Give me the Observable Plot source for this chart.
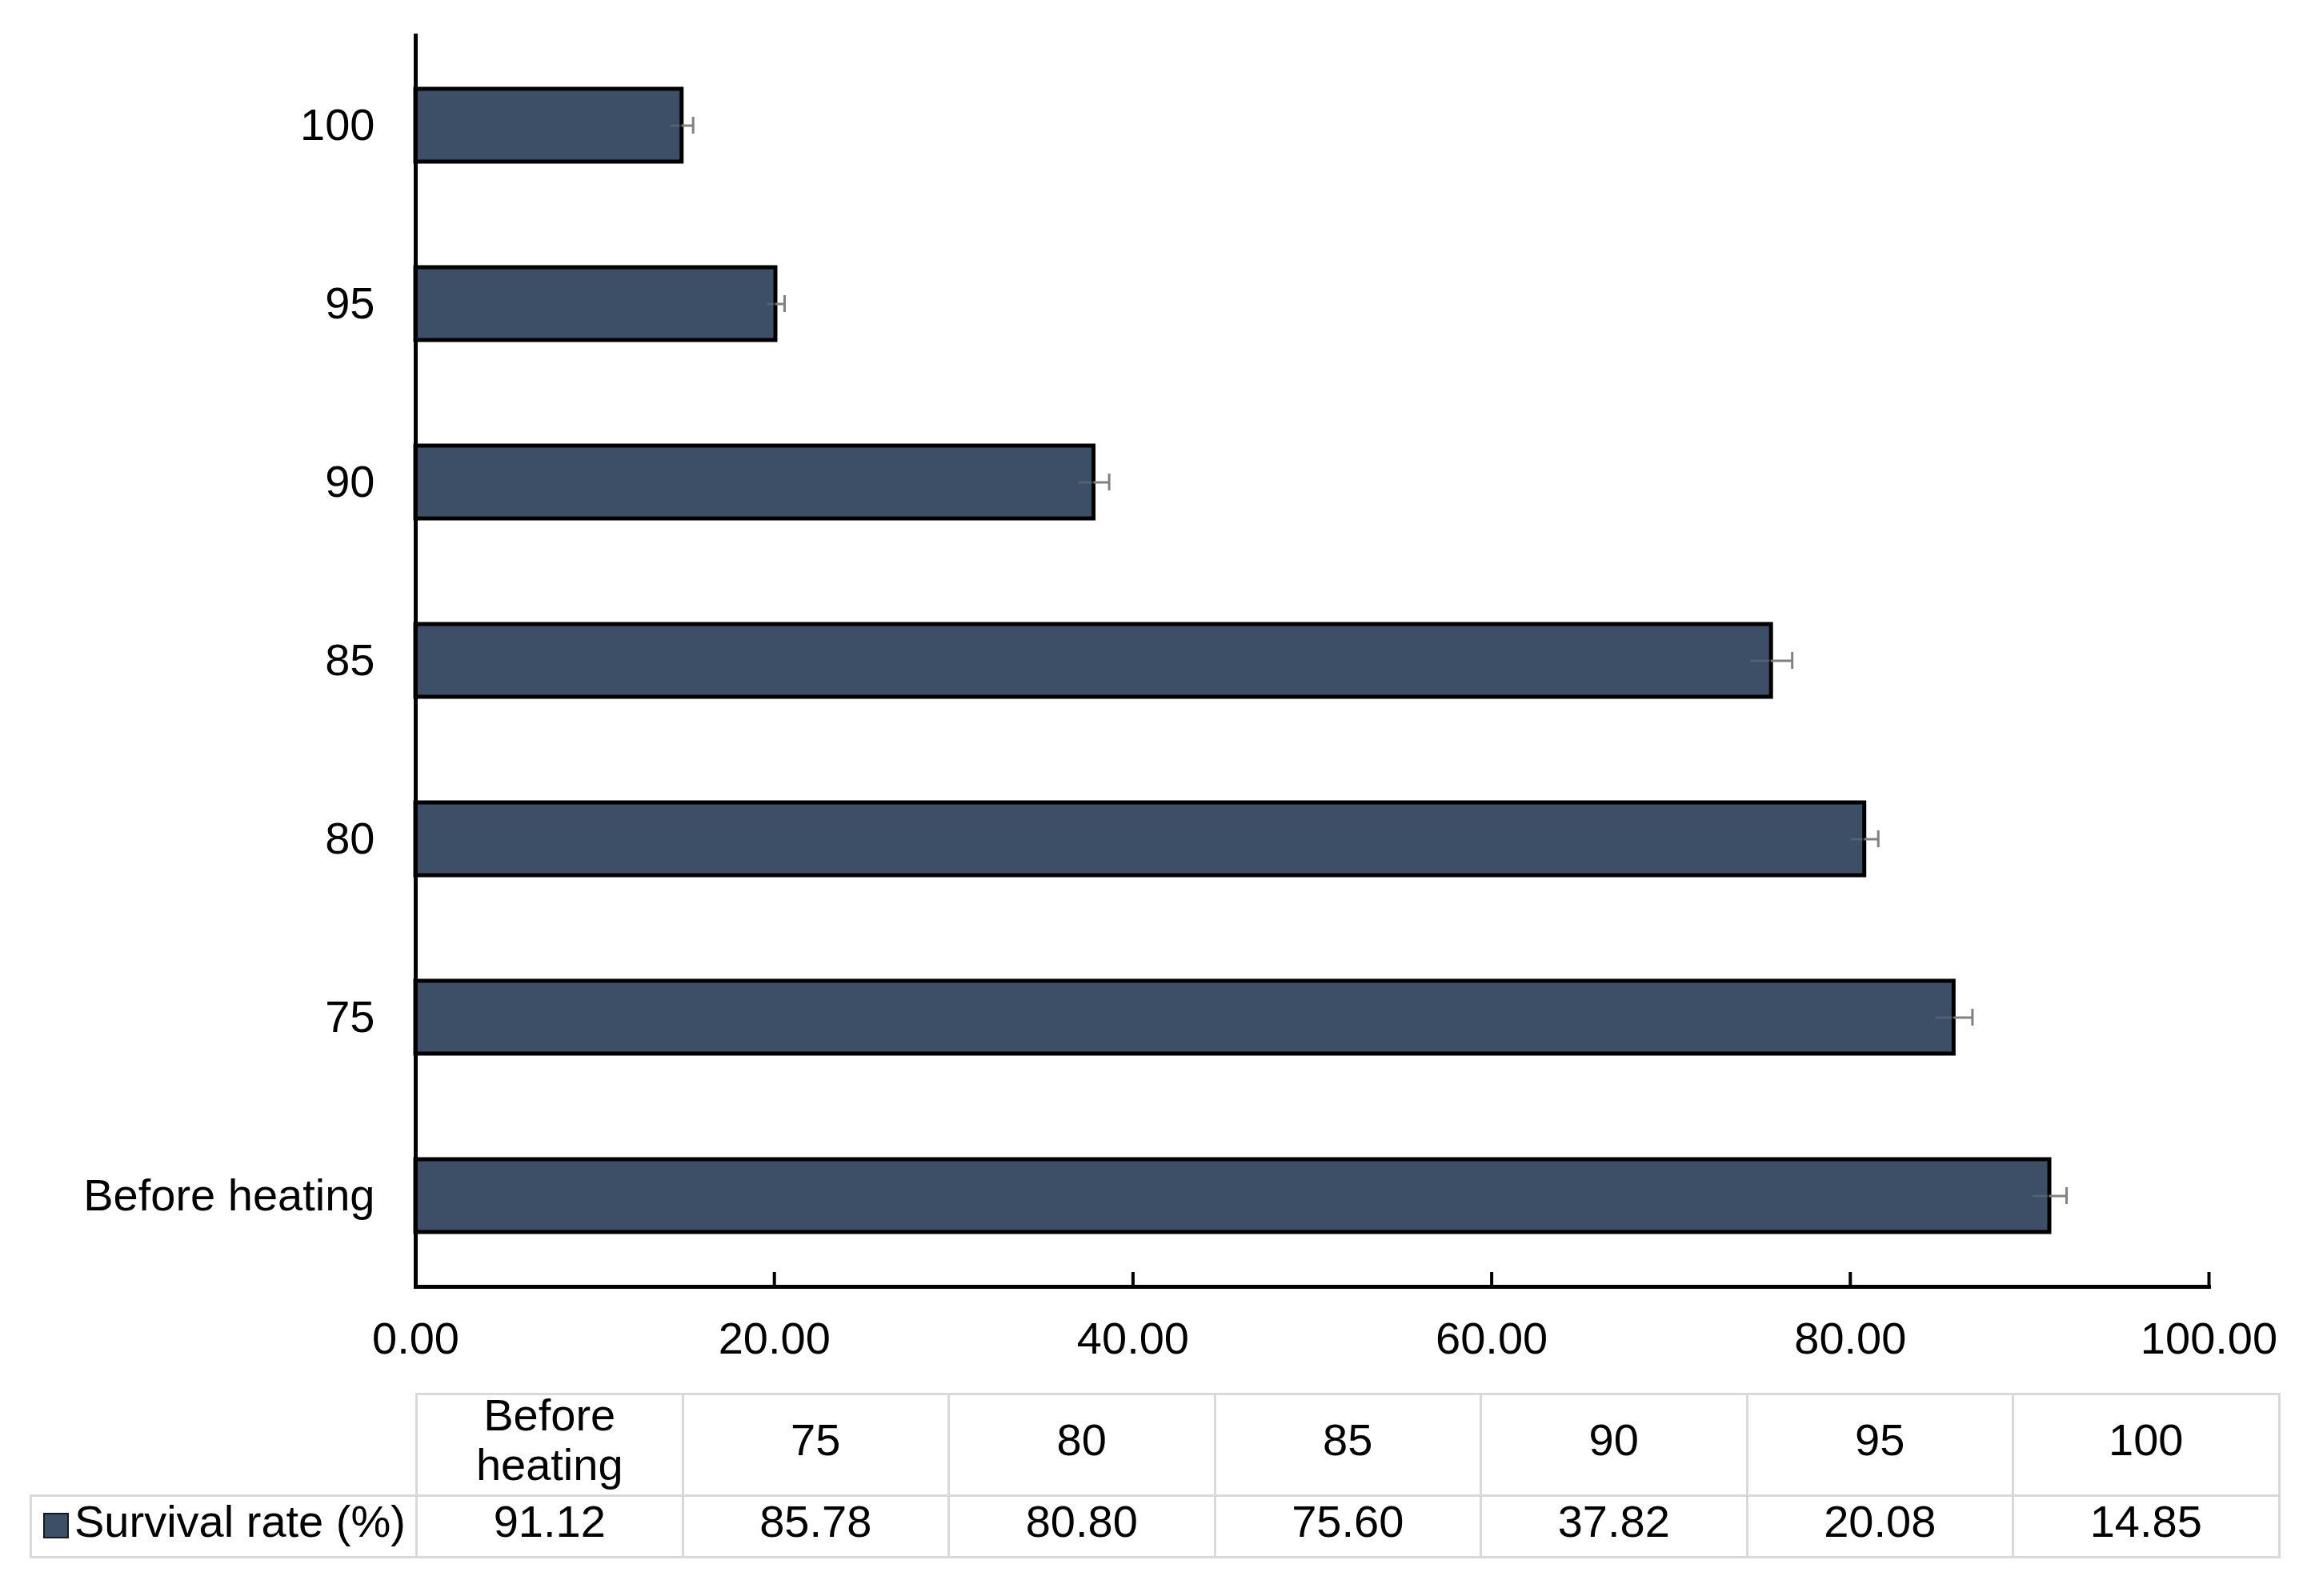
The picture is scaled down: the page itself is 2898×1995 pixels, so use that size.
<!DOCTYPE html>
<html><head><meta charset="utf-8">
<script src="https://cdn.jsdelivr.net/npm/d3@7"></script>
<script src="https://cdn.jsdelivr.net/npm/@observablehq/plot@0.6"></script>
<style>
body{margin:0;background:#fff;}
#wrap{position:relative;width:2898px;height:1995px;font-family:"Liberation Sans",Arial,sans-serif;background:#fff;}
#chart{position:absolute;left:0;top:0;}
#tbl{position:absolute;left:37px;top:1741px;border-collapse:collapse;font-size:56px;color:#000;table-layout:fixed;}
#tbl td{border:3px solid #d9d9d9;text-align:center;vertical-align:middle;padding:0;line-height:62px;}
#tbl td span.t{position:relative;top:-6px;}
#tbl td.blank{border-top:none;border-left:none;}
#tbl td.legend{text-align:left;padding-left:14px;white-space:nowrap;}
.sw{display:inline-block;width:28px;height:28px;background:#3d4f67;border:2px solid #111827;margin-right:7px;vertical-align:-2px;}
</style></head><body>
<div id="wrap"><div id="chart"></div><table id="tbl"></table></div>
<script>
const categories = ["Before heating", "75", "80", "85", "90", "95", "100"];
const survival = [91.12, 85.78, 80.80, 75.60, 37.82, 20.08, 14.85];
const errors = [0.94, 1.03, 0.76, 1.16, 0.85, 0.49, 0.62];
const xTicks = [0, 20, 40, 60, 80, 100];
const seriesName = "Survival rate (%)";

const data = categories.map((c, i) => ({cat: c, v: survival[i], e: errors[i]}));
const yOrder = categories.slice().reverse();
const fmt = d => d.toFixed(2);

const chart = Plot.plot({
  width: 2898, height: 1730,
  marginLeft: 519, marginRight: 138, marginTop: 44, marginBottom: 122,
  style: {fontFamily: "Liberation Sans, Arial, sans-serif", fontSize: "56px", background: "#fff", color: "#000", overflow: "visible"},
  x: {domain: [0, 100], ticks: xTicks, tickFormat: fmt, label: null},
  y: {domain: yOrder, paddingInner: 0.59, paddingOuter: 0.295, label: null},
  marks: [
    Plot.barX(data, {x: "v", y: "cat", fill: "#3d4f67", stroke: "#000", strokeWidth: 5}),
    Plot.ruleY(data, {y: "cat", x1: d => d.v - d.e, x2: "v", stroke: "#8a8a8a", strokeWidth: 3, strokeOpacity: 0.3}),
    Plot.ruleY(data, {y: "cat", x1: "v", x2: d => d.v + d.e, stroke: "#808080", strokeWidth: 3}),
    Plot.tickX(data, {x: d => d.v + d.e, y: "cat", stroke: "#808080", strokeWidth: 3, insetTop: 35, insetBottom: 35}),
    Plot.frame({anchor: "left", stroke: "#000", strokeWidth: 5}),
    Plot.frame({anchor: "bottom", stroke: "#000", strokeWidth: 5}),
    Plot.axisX({ticks: xTicks, tickFormat: fmt, tickSize: -18, tickPadding: 62, strokeWidth: 4, fontSize: 56, label: null}),
    Plot.axisY({tickSize: 0, tickPadding: 51, fontSize: 56, label: null})
  ]
});
document.getElementById("chart").appendChild(chart);

// data table below the chart
const tbl = document.getElementById("tbl");
const cg = document.createElement("colgroup");
const c0 = document.createElement("col"); c0.style.width = "482px"; cg.appendChild(c0);
categories.forEach(() => { const c = document.createElement("col"); c.style.width = "332.5px"; cg.appendChild(c); });
tbl.appendChild(cg);
function cell(text) {
  const td = document.createElement("td");
  const s = document.createElement("span"); s.className = "t"; s.textContent = text;
  td.appendChild(s); return td;
}
const r1 = document.createElement("tr"); r1.style.height = "126px";
const blank = document.createElement("td"); blank.className = "blank"; r1.appendChild(blank);
categories.forEach(c => r1.appendChild(cell(c)));
tbl.appendChild(r1);
const r2 = document.createElement("tr"); r2.style.height = "77px";
const lg = document.createElement("td"); lg.className = "legend";
const lt = document.createElement("span"); lt.className = "t";
const sw = document.createElement("span"); sw.className = "sw"; lt.appendChild(sw);
lt.appendChild(document.createTextNode(seriesName));
lg.appendChild(lt);
r2.appendChild(lg);
survival.forEach(v => r2.appendChild(cell(v.toFixed(2))));
tbl.appendChild(r2);
</script>
</body></html>
